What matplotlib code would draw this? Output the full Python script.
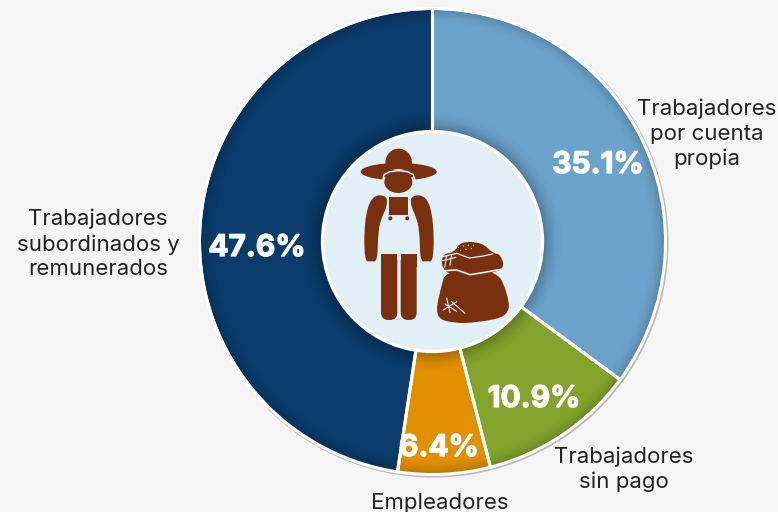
import numpy as np
import matplotlib
matplotlib.use("Agg")
import matplotlib.pyplot as plt
import matplotlib.patheffects as pe
from matplotlib.patches import Circle, Wedge, Ellipse, Polygon, PathPatch, FancyBboxPatch
from matplotlib.path import Path

W, H = 778, 512
categories = ["Trabajadores\npor cuenta\npropia", "Trabajadores\nsin pago", "Empleadores",
              "Trabajadores\nsubordinados y\nremunerados"]
values = [35.1, 10.9, 6.4, 47.6]
pct_labels = ["35.1%", "10.9%", "6.4%", "47.6%"]
colors = ["#6CA3CC", "#83A32C", "#E09000", "#0B3B6B"]
BG, INNER, BROWN = "#F5F5F5", "#E1EFF7", "#78300F"
FONT = ["Inter", "DejaVu Sans"]
TXT = "#222222"

fig = plt.figure(figsize=(W/100, H/100), dpi=100, facecolor=BG)
ax = fig.add_axes([0, 0, 1, 1])
cx, cy, R = 432.5, 512-241.5, 233
r_in = 110

# soft bevel behind the ring
ax.add_patch(Wedge((cx+1, cy-1), R+2, 225, 45, fc="#B9B9B9", ec="none", zorder=0))

ax.pie(values, colors=colors, startangle=90, counterclock=False, center=(cx, cy), radius=R,
       wedgeprops=dict(ec="none", zorder=1))
ax.patch.set_alpha(0)

# inner shadow along the outer rim
n = 16
for i in range(n):
    a = 0.16*(1-i/n)**2
    ax.add_patch(Wedge((cx, cy), R-i, 0, 360, width=1.2, fc="black", ec="none", alpha=a, zorder=2))
# shadow cast by the centre disc
for i in range(n+4):
    a = 0.22*(1-i/(n+4))**2
    ax.add_patch(Wedge((cx, cy), r_in+i+2, 0, 360, width=1.2, fc="black", ec="none", alpha=a, zorder=2))

# white separators from the same values
wedges, _ = ax.pie(values, colors=["none"]*4, startangle=90, counterclock=False, center=(cx, cy), radius=R,
                   wedgeprops=dict(ec="white", lw=2.2, zorder=3))
ax.add_patch(Wedge((cx, cy), R+0.5, 45, 225, width=2.0, fc="white", ec="none", zorder=3))

ax.set_xlim(0, W); ax.set_ylim(0, H); ax.set_aspect("auto"); ax.axis("off")
ax.add_patch(Circle((cx, cy), r_in, fc=INNER, ec="white", lw=2.4, zorder=5))

def Z(x, y):
    return (310+x/3, H-(120+y/3))

def poly(pts, fc=BROWN, z=6, **kw):
    ax.add_patch(Polygon([Z(*p) for p in pts], closed=True, fc=fc, ec=kw.pop("ec", "none"), zorder=z, **kw))

def curve(pts, fc=BROWN, z=6):
    P = [Z(*p) for p in pts]
    m = [((P[i][0]+P[(i+1) % len(P)][0])/2, (P[i][1]+P[(i+1) % len(P)][1])/2) for i in range(len(P))]
    v = [m[-1]]; c = [Path.MOVETO]
    for i in range(len(P)):
        v += [P[i], m[i]]; c += [Path.CURVE3, Path.CURVE3]
    ax.add_patch(PathPatch(Path(v, c), fc=fc, ec="none", zorder=z))

def line(pts, lw=1.0, z=8, c=INNER):
    xs, ys = zip(*[Z(*p) for p in pts])
    ax.plot(xs, ys, color=c, lw=lw, solid_capstyle="round", zorder=z)

# hat
ax.add_patch(Ellipse(Z(266, 155), 228/3, 52/3, fc=BROWN, ec="none", zorder=6))
ax.add_patch(Ellipse(Z(266, 128), 80/3, 84/3, fc=BROWN, ec="none", zorder=6))
# head
ax.add_patch(Ellipse(Z(265, 184), 92/3, 74/3, fc=INNER, ec="none", zorder=7))
ax.add_patch(Ellipse(Z(265, 186), 84/3, 66/3, fc=BROWN, ec="none", zorder=8))
ax.add_patch(Polygon([Z(222, 172), Z(308, 172), Z(316, 150), Z(216, 150)], fc=BROWN, ec="none", zorder=7))
line([(219, 178), (222, 164), (240, 155), (266, 152), (292, 155), (310, 164), (314, 178)], lw=1.1, z=8)
# shirt, arms
curve([(232, 226), (185, 226), (163, 300), (163, 424), (183, 424), (203, 424), (204, 330), (218, 285), (230, 262)])
curve([(301, 226), (350, 226), (371, 300), (371, 424), (350, 424), (330, 424), (329, 330), (316, 285), (304, 262)])
poly([(236, 231), (295, 231), (295, 285), (236, 285)])
for bx in (241, 292):
    ax.add_patch(Circle(Z(bx, 295), 2, fc=BROWN, ec="none", zorder=6))
# legs
for x0, x1 in ((213, 262), (272, 320)):
    xa, ya = Z(x0, 600); xb, yb = Z(x1, 402)
    ax.add_patch(FancyBboxPatch((xa, ya), xb-xa, yb-ya, boxstyle="round,pad=0,rounding_size=7.5",
                                fc=BROWN, ec="none", zorder=6))
    poly([(x0, 402), (x1, 402), (x1, 440), (x0, 440)])
# sack
curve([(408, 450), (392, 505), (374, 592), (430, 610), (500, 608), (602, 588), (590, 510), (558, 450)])
curve([(394, 402), (432, 398), (452, 364), (518, 368), (548, 400), (572, 402), (586, 452), (480, 470), (398, 460)])
line([(405, 452), (440, 450), (480, 464), (530, 456), (572, 448)], lw=1.2)
line([(398, 410), (440, 400), (478, 414), (520, 408), (548, 402)], lw=0.9)
for s in ([(410, 408), (404, 442)], [(425, 404), (420, 436)], [(398, 422), (438, 412)],
          [(410, 534), (420, 578)], [(400, 570), (440, 545)], [(425, 545), (465, 580)], [(405, 552), (440, 574)]):
    line(s, lw=0.8)
for dx, dy in [(430, 388), (445, 382), (460, 378), (475, 376), (490, 376), (452, 392), (468, 388), (484, 386)]:
    ax.add_patch(Circle(Z(dx, dy), 0.6, fc=INNER, ec="none", zorder=8))

def T(x, y, s, **kw):
    ax.text(x, H-y, s, ha="center", va="center", family=FONT, zorder=10, **kw)

T(707, 134, categories[0], fontsize=16, color=TXT, linespacing=1.3)
T(624, 469, categories[1], fontsize=16, color=TXT, linespacing=1.3)
T(440, 503, categories[2], fontsize=16, color=TXT)
T(98, 244, categories[3], fontsize=16, color=TXT, linespacing=1.3)
for (x, y), s in zip([(598, 165), (534, 399), (439, 448), (257, 248)], pct_labels):
    T(x, y, s, fontsize=21.5, color="white", fontweight="bold",
      path_effects=[pe.withStroke(linewidth=0.9, foreground="white")])

fig.savefig("out.png", dpi=100, facecolor=BG)
